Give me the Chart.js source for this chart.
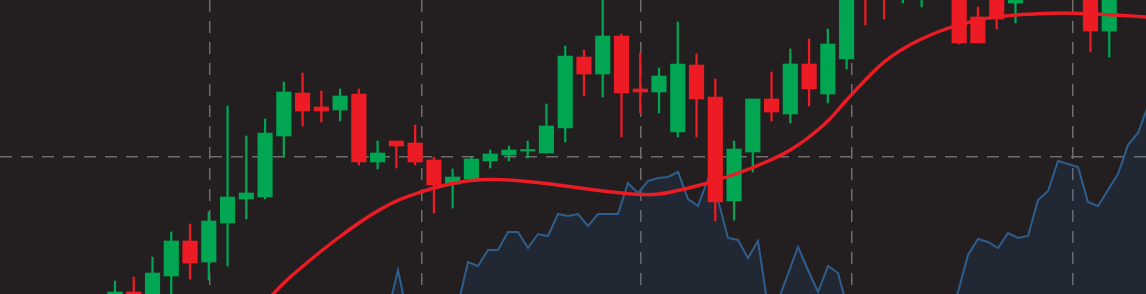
<!DOCTYPE html>
<html>
<head>
<meta charset="utf-8">
<script src="https://cdn.jsdelivr.net/npm/chart.js@4.4.1/dist/chart.umd.min.js"></script>
<style>
  html, body { margin: 0; padding: 0; background: #231f20; overflow: hidden; }
  canvas { display: block; }
</style>
</head>
<body>
<canvas id="c" width="1146" height="294"></canvas>
<script>
// ---- Candlestick data (one entry per period) ----
const opens = [
  99.4, 100.2, 99.8, 101.8, 105.3, 103.2, 107.1, 109.5, 109.7, 115.8,
  120.1, 118.7, 118.4, 120.0, 113.2, 115.3, 115.1, 113.4, 111.0, 111.5,
  113.3, 113.9, 114.3, 114.1, 116.6, 123.7, 122.0, 125.8, 120.5, 120.2,
  116.2, 122.9, 119.7, 109.3, 114.2, 119.5, 118.0, 123.0, 120.0, 123.5,
  133.4, 132.4, 130.2, 129.9, 132.4, 130.9, 127.7, 129.9, 129.1, 131.4,
  133.4, 131.9, 130.2, 126.3, 130.0, 131.5
];
const highs = [
  101.3, 101.7, 103.7, 106.2, 107.0, 108.2, 118.8, 115.8, 117.5, 121.2,
  122.1, 120.3, 120.5, 120.5, 115.3, 115.3, 116.9, 113.7, 112.5, 113.7,
  114.4, 114.8, 115.3, 119.0, 124.8, 124.4, 129.6, 126.0, 124.1, 122.6,
  127.2, 124.0, 121.5, 115.3, 119.5, 122.2, 124.5, 125.5, 126.5, 132.4,
  134.4, 133.9, 133.9, 133.4, 133.4, 131.9, 128.7, 130.9, 132.4, 134.4,
  134.2, 133.6, 130.9, 131.4, 132.0, 133.0
];
const lows = [
  98.8, 98.8, 99.4, 99.8, 101.5, 101.4, 102.8, 107.5, 109.5, 113.7,
  116.8, 117.2, 117.3, 112.9, 112.5, 112.6, 112.9, 108.1, 108.6, 111.5,
  112.6, 113.3, 113.6, 114.1, 115.2, 119.8, 119.7, 115.7, 118.1, 118.1,
  115.7, 115.7, 107.3, 107.4, 112.2, 117.3, 117.1, 118.8, 119.1, 122.5,
  126.9, 127.5, 129.1, 128.7, 129.7, 125.0, 125.1, 126.5, 127.1, 129.9,
  131.0, 130.5, 124.2, 123.7, 129.6, 130.0
];
const closes = [
  100.2, 99.2, 102.1, 105.3, 103.1, 107.3, 109.7, 110.1, 116.1, 120.2,
  118.3, 118.3, 119.8, 113.2, 114.1, 114.8, 113.2, 110.9, 111.7, 113.5,
  114.0, 114.4, 114.4, 116.8, 123.8, 122.0, 125.8, 120.1, 120.2, 121.8,
  123.0, 119.5, 109.2, 114.5, 119.5, 118.2, 123.0, 120.5, 125.0, 131.4,
  129.9, 129.8, 132.9, 132.4, 130.4, 125.1, 125.1, 127.5, 131.4, 133.4,
  131.9, 132.8, 126.3, 130.4, 131.5, 132.5
];

// ---- Moving average (per period, null where not drawn) ----
const movingAverage = [
  null, null, null, null, null, null, null, 97.0, 99.1, 101.1,
  102.75, 104.3, 105.75, 107.1, 108.3, 109.3, 110.0, 110.6, 111.05, 111.35,
  111.45, 111.4, 111.25, 111.05, 110.8, 110.55, 110.3, 110.1, 109.95, 110.0,
  110.35, 110.8, 111.35, 111.95, 112.65, 113.45, 114.4, 115.7, 117.3, 119.4,
  121.4, 123.2, 124.5, 125.5, 126.3, 126.9, 127.4, 127.7, 127.9, 128.0,
  128.07, 128.08, 128.03, 127.93, 127.82, 127.7
];

// ---- Secondary (blue area) series, finer sampling ----
const blueValues = [
  96.9, 97.4, 98.2, 102.4, 97.6, 97.2, 97.6, 98.2, 97.9, 98.9,
  103.2, 102.8, 104.4, 104.4, 106.2, 106.2, 104.6, 106.0, 105.8, 108.0,
  107.8, 108.0, 106.8, 108.0, 108.0, 108.0, 111.1, 110.1, 111.3, 111.6,
  111.7, 112.2, 109.5, 108.8, 111.5, 109.4, 105.6, 105.4, 103.6, 105.3,
  98.7, 99.3, 102.0, 104.7, 102.4, 100.2, 102.8, 102.1, 98.4, 97.9,
  96.9, 97.6, 96.4, 97.2, 95.9, 96.8, 97.6, 97.2, 97.6, 100.2,
  103.9, 105.5, 105.2, 104.6, 106.1, 105.6, 105.8, 109.4, 110.3, 113.3,
  113.0, 112.7, 109.2, 108.8, 110.4, 112.0, 114.9, 116.1, 118.8
];

// ---- Grid tick values ----
const timeGridTicks = [5.06, 16.35, 28.04, 39.26, 51.04];
const priceGridTicks = [113.7];

// ---- Build datasets ----
const UP = '#00a651';
const DOWN = '#ed1c24';
const periods = opens.map((_, i) => i);
const candleColors = periods.map(i => closes[i] >= opens[i] ? UP : DOWN);
const bodyData = periods.map(i => ({ x: i, y: [opens[i], closes[i]] }));
const wickData = periods.map(i => ({ x: i, y: [lows[i], highs[i]] }));
const maData = periods.filter(i => movingAverage[i] !== null).map(i => ({ x: i, y: movingAverage[i] }));
const blueData = blueValues.map((v, k) => ({ x: k, y: v }));

const gridStyle = { color: '#6f6d6e', lineWidth: 1.5, drawTicks: false, offset: false };

new Chart(document.getElementById('c'), {
  type: 'bar',
  data: {
    datasets: [
      {
        type: 'line', data: maData, borderColor: DOWN, borderWidth: 3.4,
        pointRadius: 0, tension: 0.45, order: 0
      },
      {
        type: 'bar', data: bodyData, backgroundColor: candleColors, borderWidth: 0,
        barThickness: 14.5, maxBarThickness: 14.5, grouped: false, minBarLength: 1.5, order: 1
      },
      {
        type: 'bar', data: wickData, backgroundColor: candleColors, borderWidth: 0,
        barThickness: 1.6, maxBarThickness: 1.6, grouped: false, order: 2
      },
      {
        type: 'line', data: blueData, xAxisID: 'xb', borderColor: '#2f5e8d', borderWidth: 2,
        backgroundColor: 'rgba(20,100,170,0.14)', fill: 'start', pointRadius: 0,
        tension: 0, order: 3
      }
    ]
  },
  options: {
    responsive: false,
    animation: false,
    devicePixelRatio: 1,
    events: [],
    layout: { padding: 0 },
    plugins: { legend: { display: false }, tooltip: { enabled: false } },
    scales: {
      x: {
        type: 'linear', min: -6.13, max: 54.96, offset: false,
        afterBuildTicks: s => { s.ticks = timeGridTicks.map(v => ({ value: v })); },
        ticks: { display: false },
        grid: gridStyle,
        border: { display: false, dash: [12, 9] }
      },
      xb: {
        type: 'linear', display: false, min: -36.8, max: 77.8, offset: false
      },
      y: {
        type: 'linear', min: 100, max: 129.4,
        afterBuildTicks: s => { s.ticks = priceGridTicks.map(v => ({ value: v })); },
        ticks: { display: false },
        grid: gridStyle,
        border: { display: false, dash: [12, 9] }
      }
    }
  }
});
</script>
</body>
</html>
